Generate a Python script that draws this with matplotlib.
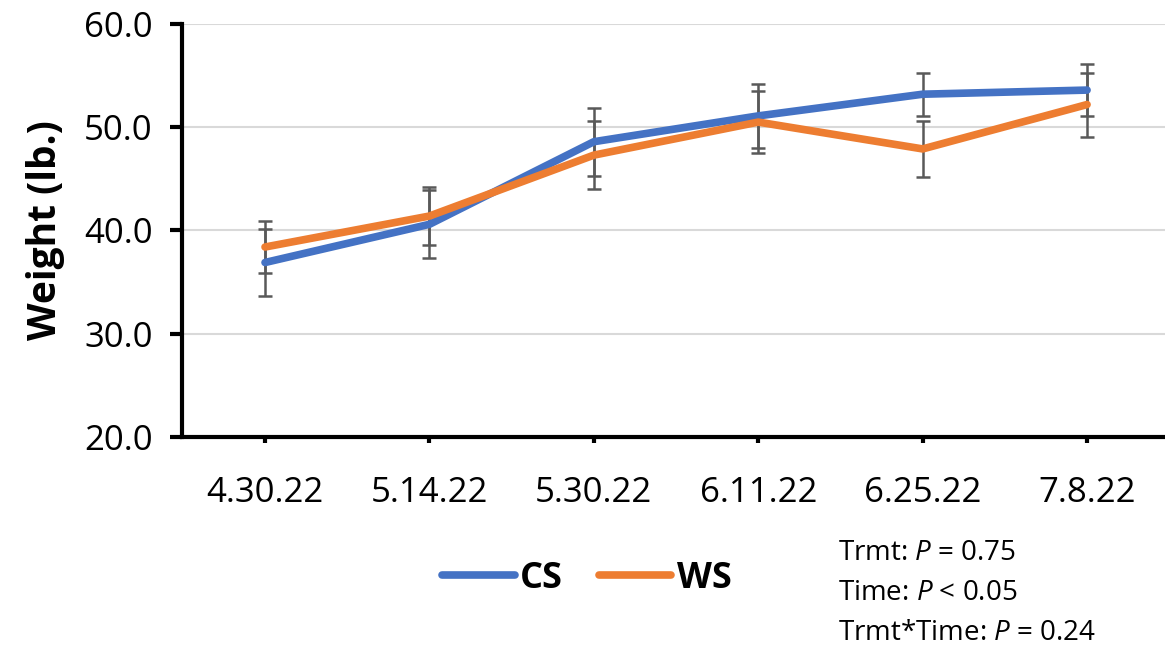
import matplotlib
matplotlib.use("Agg")
import matplotlib.pyplot as plt
from matplotlib.ticker import FormatStrFormatter

dates = ['4.30.22', '5.14.22', '5.30.22', '6.11.22', '6.25.22', '7.8.22']
cs = [36.9, 40.6, 48.6, 51.1, 53.2, 53.6]
cs_err = [3.2, 3.3, 3.3, 3.1, 2.1, 2.5]
ws = [38.4, 41.4, 47.3, 50.5, 47.9, 52.2]
ws_err = [2.5, 2.8, 3.3, 3.0, 2.7, 3.1]
stats = ['Trmt: $\\it{P}$ = 0.75', 'Time: $\\it{P}$ < 0.05', 'Trmt*Time: $\\it{P}$ = 0.24']

plt.rcParams['font.family'] = ['Open Sans', 'DejaVu Sans']
plt.rcParams['mathtext.fontset'] = 'custom'
plt.rcParams['mathtext.it'] = 'Open Sans:italic'

fig = plt.figure(figsize=(11.65, 6.5), dpi=100)
ax = fig.add_axes([182/1165, (650-437)/650, (1165-182)/1165, (437-24)/650])

x = list(range(len(dates)))
err_kw = dict(fmt='none', ecolor='#595959', elinewidth=1.8, capsize=5, capthick=1.8, zorder=2)
ax.errorbar(x, cs, yerr=cs_err, **err_kw)
ax.errorbar(x, ws, yerr=ws_err, **err_kw)
ax.plot(x, cs, color='#4472C4', lw=5.5, label='CS', solid_capstyle='round', zorder=3)
ax.plot(x, ws, color='#ED7D31', lw=5.5, label='WS', solid_capstyle='round', zorder=3)

ax.set_xlim(-0.505, 5.474)
ax.set_ylim(20, 60)
ax.set_yticks([20, 30, 40, 50, 60])
ax.yaxis.set_major_formatter(FormatStrFormatter('%.1f'))
ax.set_xticks(x)
ax.set_xticklabels(dates)
ax.yaxis.grid(True, color='#D9D9D9', lw=1.5)
ax.set_axisbelow(True)

for s in ['top', 'right']:
    ax.spines[s].set_visible(False)
ax.spines['left'].set_linewidth(3)
ax.spines['bottom'].set_linewidth(3)
ax.tick_params(axis='y', direction='out', length=9, width=3, labelsize=25, pad=12)
ax.tick_params(axis='x', direction='out', length=4, width=3, labelsize=25, pad=24)
ax.set_ylabel('Weight (lb.)', fontsize=28, fontweight='bold', labelpad=14)

fig.legend(loc='center', bbox_to_anchor=(587/1165, 1 - 579/650), ncol=2, frameon=False,
           prop={'size': 26, 'weight': 'bold'}, handlelength=2.0, handletextpad=0.15,
           columnspacing=1.0)

for i, t in enumerate(stats):
    fig.text(838/1165, 1 - (553 + 40*i)/650, t, fontsize=20, va='center', ha='left')

fig.savefig('out.png', dpi=100)
